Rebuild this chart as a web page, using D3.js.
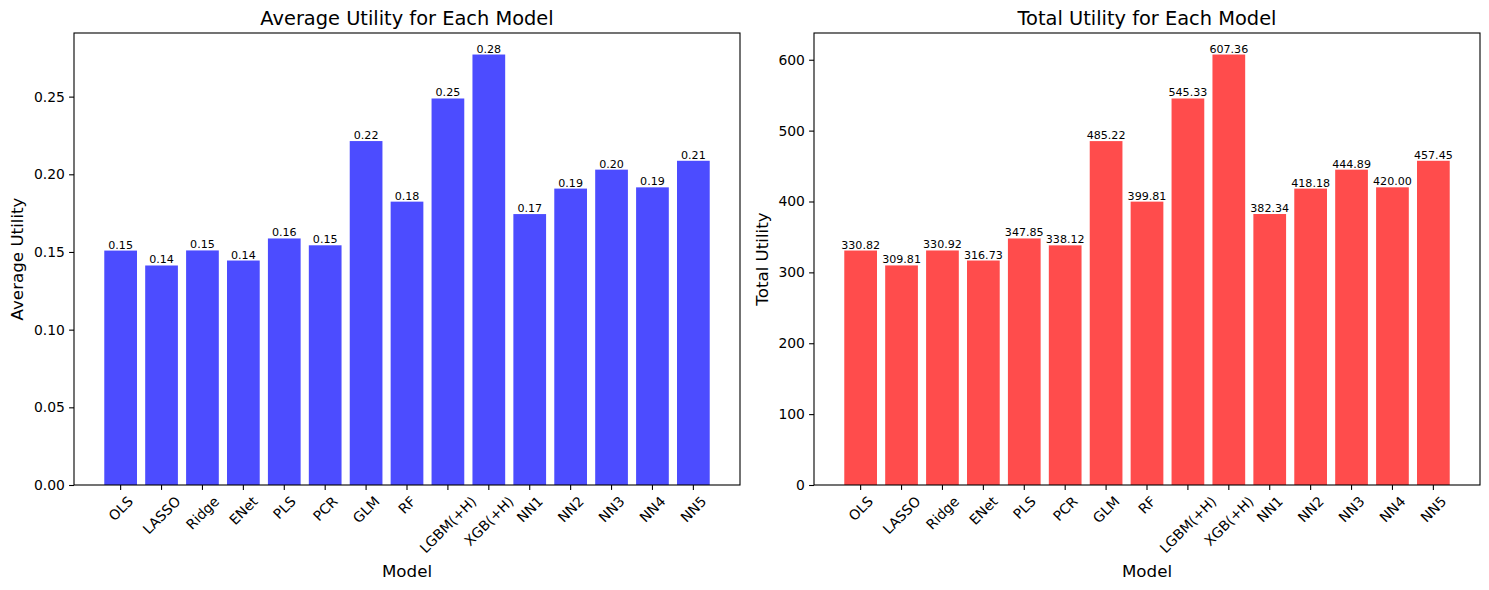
<!DOCTYPE html>
<html>
<head>
<meta charset="utf-8">
<script src="https://cdn.jsdelivr.net/npm/d3@7"></script>
<style>
  body { margin: 0; background: #fff; }
  svg { display: block; font-family: "DejaVu Sans", sans-serif; }
</style>
</head>
<body>
<svg id="chart" width="1489" height="590"></svg>
<script>
const models = ["OLS","LASSO","Ridge","ENet","PLS","PCR","GLM","RF","LGBM(+H)","XGB(+H)","NN1","NN2","NN3","NN4","NN5"];
const averageUtility = [0.1509,0.1413,0.1510,0.1445,0.1587,0.1543,0.2214,0.1824,0.2488,0.2771,0.1744,0.1908,0.2030,0.1916,0.2087];
const totalUtility = [330.82,309.81,330.92,316.73,347.85,338.12,485.22,399.81,545.33,607.36,382.34,418.18,444.89,420.00,457.45];
const avgTicks = [0,0.05,0.10,0.15,0.20,0.25];
const totalTicks = [0,100,200,300,400,500,600];

const svg = d3.select("#chart");
const plotTop = 33, plotBottom = 485;

function panel(opt) {
  const g = svg.append("g");
  const n = opt.values.length;
  const x = d3.scaleLinear().domain([-0.4 - 0.74, (n - 1) + 0.4 + 0.74]).range([opt.left, opt.right]);
  const y = d3.scaleLinear().domain([0, d3.max(opt.values) * 1.05]).range([plotBottom, plotTop]);

  g.selectAll("rect.bar").data(opt.values).join("rect")
    .attr("class", "bar")
    .attr("x", (d, i) => x(i - 0.4))
    .attr("width", (d, i) => x(i + 0.4) - x(i - 0.4))
    .attr("y", d => y(d))
    .attr("height", d => y(0) - y(d))
    .attr("fill", opt.color);

  g.selectAll("text.val").data(opt.values).join("text")
    .attr("class", "val")
    .attr("x", (d, i) => x(i))
    .attr("y", d => y(d) - 2)
    .attr("text-anchor", "middle")
    .attr("font-size", "11.1px")
    .attr("fill", "#000")
    .text(d => d.toFixed(2));

  // y axis
  const yAxis = d3.axisLeft(y).tickValues(opt.ticks).tickSize(4.9).tickPadding(4.2).tickFormat(opt.fmt);
  const ya = g.append("g").attr("transform", `translate(${opt.left},0)`).call(yAxis);
  ya.select(".domain").remove();
  ya.selectAll("text").attr("font-size", "13.9px").attr("font-family", "DejaVu Sans, sans-serif").attr("fill", "#000");
  ya.selectAll("line").attr("stroke", "#000").attr("stroke-width", 1.1);

  // x axis ticks
  const xa = g.append("g");
  models.forEach((m, i) => {
    const tx = x(i);
    xa.append("line").attr("x1", tx).attr("x2", tx).attr("y1", plotBottom).attr("y2", plotBottom + 4.9)
      .attr("stroke", "#000").attr("stroke-width", 1.1);
    const t = xa.append("text").attr("font-size", "13.9px").attr("fill", "#000")
      .attr("text-anchor", "middle").attr("dominant-baseline", "central").text(m);
    const w = t.node().getComputedTextLength();
    const h = 13.9 * 1.0;
    const cy = plotBottom + 4.9 + 4.0 + (w + h) * Math.SQRT1_2 / 2;
    t.attr("x", tx).attr("y", cy).attr("transform", `rotate(-45,${tx},${cy})`);
  });

  // frame
  g.append("rect").attr("x", opt.left).attr("y", plotTop)
    .attr("width", opt.right - opt.left).attr("height", plotBottom - plotTop)
    .attr("fill", "none").attr("stroke", "#000").attr("stroke-width", 1.1);

  // title
  g.append("text").attr("x", (opt.left + opt.right) / 2).attr("y", 25)
    .attr("text-anchor", "middle").attr("font-size", "19.4px").attr("fill", "#000").text(opt.title);
  // x label
  g.append("text").attr("x", (opt.left + opt.right) / 2).attr("y", 577)
    .attr("text-anchor", "middle").attr("font-size", "16.7px").attr("fill", "#000").text("Model");
  // y label
  const cyl = (plotTop + plotBottom) / 2;
  g.append("text").attr("transform", `translate(${opt.ylabelX},${cyl}) rotate(-90)`)
    .attr("text-anchor", "middle").attr("font-size", "16.7px").attr("fill", "#000").text(opt.ylabel);
}

panel({ left: 74, right: 740, values: averageUtility, ticks: avgTicks, fmt: d3.format(".2f"),
  color: "rgba(0,0,255,0.7)", title: "Average Utility for Each Model", ylabel: "Average Utility", ylabelX: 23 });
panel({ left: 814, right: 1480, values: totalUtility, ticks: totalTicks, fmt: d3.format("d"),
  color: "rgba(255,0,0,0.7)", title: "Total Utility for Each Model", ylabel: "Total Utility", ylabelX: 768 });
</script>
</body>
</html>
